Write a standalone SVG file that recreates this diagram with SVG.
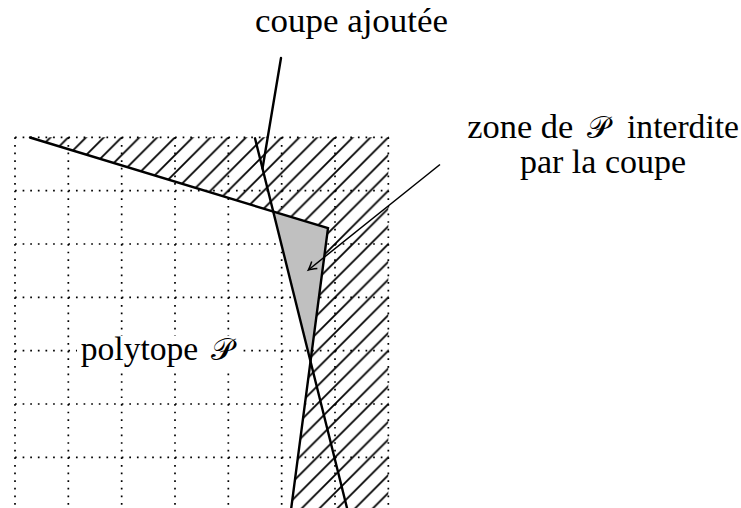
<svg xmlns="http://www.w3.org/2000/svg" width="741" height="508" viewBox="0 0 741 508">
<style>
.grid{stroke:#000;stroke-width:1.7;stroke-dasharray:1.7 5.92;fill:none}
.thick{stroke:#000;stroke-width:2.4;fill:none;stroke-linecap:round}
.lbl{font-family:"Liberation Serif",serif;font-size:33px;fill:#000}
.cal{font-family:"DejaVu Serif","DejaVu Sans",serif;font-size:31px;fill:#000}
</style>
<defs>
<pattern id="hatch" patternUnits="userSpaceOnUse" x="15" y="137.33" width="17.778" height="17.778">
<path d="M0,17.778 L17.778,0 M-2,2 L2,-2 M15.778,19.778 L19.778,15.778" stroke="#000" stroke-width="1.8"/>
</pattern>
<marker id="arr" markerUnits="userSpaceOnUse" markerWidth="20" markerHeight="20" refX="0" refY="0" viewBox="-10 -10 20 20" orient="auto" overflow="visible">
<path d="M-8,-4.5 Q-2.5,-1 0,0 Q-2.5,1 -8,4.5" stroke="#000" stroke-width="1.5" fill="none"/>
</marker>
</defs>
<g id="grid">
<path class="grid" d="M15,137.33V515 M68.33,137.33V515 M121.67,137.33V515 M175,137.33V515 M228.33,137.33V515 M281.67,137.33V515 M335,137.33V515 M388.33,137.33V515"/>
<path class="grid" d="M15,137.33H389 M15,190.67H389 M15,244H389 M15,297.33H389 M15,350.67H389 M15,404H389 M15,457.33H389"/>
</g>
<g id="forbidden-zone">
<path d="M30,137.33 L388.33,137.33 L388.33,508 L291,508 L328,228.2 Z" fill="url(#hatch)"/>
</g>
<g id="cut-zone">
<path d="M273.2,211.5 L328,228.2 L310.6,361.5 Z" fill="#c0c0c0"/>
</g>
<g id="connectors">
<path class="thick" d="M30,137.5 L328,228.2 L291,510"/>
<path class="thick" d="M255,138.3 L347.5,510"/>
<path class="thick" d="M281,58 L262.5,168.5"/>
<path d="M440,164.5 L308.3,270" stroke="#000" stroke-width="1.5" fill="none" marker-end="url(#arr)"/>
</g>
<g id="label-polytope">
<rect x="77" y="336" width="161" height="35" fill="#fff"/>
<text class="lbl" x="80.7" y="360" textLength="117.6" lengthAdjust="spacingAndGlyphs">polytope</text>
<text class="cal" x="211" y="360">𝒫</text>
</g>
<g id="label-cut">
<text class="lbl" x="255" y="32" textLength="193" lengthAdjust="spacingAndGlyphs">coupe ajoutée</text>
</g>
<g id="label-zone">
<text class="lbl" x="467.3" y="138.3" textLength="106" lengthAdjust="spacingAndGlyphs">zone de</text>
<text class="cal" x="587" y="138.3">𝒫</text>
<text class="lbl" x="627" y="138.3" textLength="112" lengthAdjust="spacingAndGlyphs">interdite</text>
<text class="lbl" x="520" y="173.3" textLength="166" lengthAdjust="spacingAndGlyphs">par la coupe</text>
</g>
</svg>
